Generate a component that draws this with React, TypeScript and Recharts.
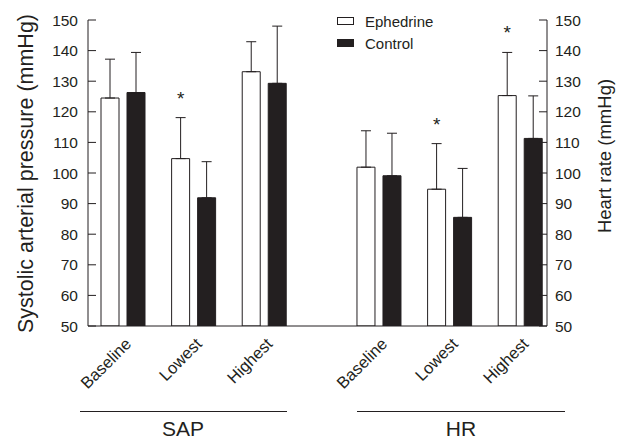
import { Bar, BarChart, ErrorBar, LabelList, Legend, XAxis, YAxis } from "recharts";

document.body.style.margin = "0";

const groups = ["SAP", "HR"];
const phases = ["Baseline", "Lowest", "Highest"];

// SAP (Baseline, Lowest, Highest) then HR (Baseline, Lowest, Highest)
const ephedrine = [124.5, 104.7, 133.1, 101.9, 94.7, 125.3];
const ephedrineSd = [12.7, 13.4, 9.8, 11.9, 14.9, 14.1];
const control = [126.3, 91.9, 129.3, 99.1, 85.5, 111.3];
const controlSd = [13.1, 11.8, 18.7, 13.9, 16.0, 13.9];
const significant = [false, true, false, false, true, true];

const yTicks = [50, 60, 70, 80, 90, 100, 110, 120, 130, 140, 150];

const INK = "#231f20";
const FONT = "'Liberation Sans', Arial, Helvetica, sans-serif";
const Y_MIN = 50;
const GROUP_STEP = 3.625;

const rows = groups.flatMap((group, gi) =>
  phases.map((phase, pi) => {
    const i = gi * phases.length + pi;
    return {
      pos: gi * GROUP_STEP + pi,
      group,
      phase,
      eph: ephedrine[i],
      ephErr: [0, ephedrineSd[i]],
      ctl: control[i],
      ctlErr: [0, controlSd[i]],
      sig: significant[i],
    };
  })
);

function PhaseTick(props: any) {
  const { x, y, payload } = props;
  const row = rows.find((r) => r.pos === payload.value);
  const tx = x + 9;
  const ty = y + 11;
  return (
    <text
      x={tx}
      y={ty}
      transform={`rotate(-45, ${tx}, ${ty})`}
      textAnchor="end"
      fontSize={16.5}
      fontFamily={FONT}
      fill={INK}
    >
      {row ? row.phase : ""}
    </text>
  );
}

function Star(props: any) {
  const vb = props.viewBox ?? props;
  const row = rows[props.index];
  if (!row || !row.sig) return null;
  const pxPerUnit = vb.height / (row.eph - Y_MIN);
  const capY = vb.y - row.ephErr[1] * pxPerUnit;
  return (
    <text
      x={vb.x + vb.width / 2}
      y={capY - 13}
      textAnchor="middle"
      fontSize={19}
      fontFamily={FONT}
      fill={INK}
    >
      *
    </text>
  );
}

const legendItems = [
  { name: "Ephedrine", fill: "#ffffff" },
  { name: "Control", fill: INK },
];

function LegendBox() {
  return (
    <div style={{ fontFamily: FONT, fontSize: 15, color: INK }}>
      {legendItems.map((it) => (
        <div key={it.name} style={{ display: "flex", alignItems: "center", height: 22 }}>
          <span
            style={{
              display: "inline-block",
              width: 17,
              height: 8,
              boxSizing: "border-box",
              border: `1px solid ${INK}`,
              background: it.fill,
              marginRight: 11,
            }}
          />
          {it.name}
        </div>
      ))}
    </div>
  );
}

const tickStyle = { fontSize: 15.5, fontFamily: FONT, fill: INK };

export default function App() {
  return (
    <div style={{ position: "relative", width: 623, height: 441, background: "#fff" }}>
      <BarChart
        width={623}
        height={441}
        data={rows}
        margin={{ top: 20, right: 16, bottom: 35, left: 28 }}
        barSize={18}
        barGap={8}
      >
        <XAxis
          dataKey="pos"
          type="number"
          domain={[-0.5, 6]}
          ticks={rows.map((r) => r.pos)}
          interval={0}
          tick={<PhaseTick />}
          tickLine={false}
          axisLine={{ stroke: INK }}
          height={80}
        />
        <YAxis
          yAxisId="left"
          domain={[50, 150]}
          allowDataOverflow
          ticks={yTicks}
          interval={0}
          width={60}
          tickSize={-8}
          tickMargin={18}
          tick={tickStyle}
          tickLine={{ stroke: INK }}
          axisLine={{ stroke: INK }}
        />
        <YAxis
          yAxisId="right"
          orientation="right"
          domain={[50, 150]}
          allowDataOverflow
          ticks={yTicks}
          interval={0}
          width={60}
          tickSize={-8}
          tickMargin={16}
          tick={tickStyle}
          tickLine={{ stroke: INK }}
          axisLine={{ stroke: INK }}
        />
        <Legend
          layout="vertical"
          align="center"
          verticalAlign="middle"
          content={<LegendBox />}
          wrapperStyle={{ top: 10, left: 337, width: "auto", height: "auto" }}
        />
        <Bar
          yAxisId="left"
          dataKey="eph"
          name="Ephedrine"
          fill="#ffffff"
          stroke={INK}
          strokeWidth={1}
          isAnimationActive={false}
        >
          <ErrorBar dataKey="ephErr" direction="y" width={5} stroke={INK} strokeWidth={1} />
          <LabelList dataKey="sig" content={<Star />} />
        </Bar>
        <Bar
          yAxisId="left"
          dataKey="ctl"
          name="Control"
          fill={INK}
          stroke={INK}
          strokeWidth={1}
          isAnimationActive={false}
        >
          <ErrorBar dataKey="ctlErr" direction="y" width={5} stroke={INK} strokeWidth={1} />
        </Bar>
      </BarChart>

      <svg
        width={623}
        height={441}
        style={{ position: "absolute", left: 0, top: 0, pointerEvents: "none" }}
        fontFamily={FONT}
        fill={INK}
      >
        <text
          x={33}
          y={173.5}
          transform="rotate(-90, 33, 173.5)"
          textAnchor="middle"
          fontSize={21.5}
        >
          Systolic arterial pressure (mmHg)
        </text>
        <text
          x={611}
          y={156}
          transform="rotate(-90, 611, 156)"
          textAnchor="middle"
          fontSize={18.5}
        >
          Heart rate (mmHg)
        </text>
        <line x1={80} y1={411.5} x2={287} y2={411.5} stroke={INK} strokeWidth={1} />
        <line x1={357} y1={411.5} x2={565} y2={411.5} stroke={INK} strokeWidth={1} />
        <text x={183} y={436} textAnchor="middle" fontSize={21}>
          SAP
        </text>
        <text x={461} y={436} textAnchor="middle" fontSize={21}>
          HR
        </text>
      </svg>
    </div>
  );
}
